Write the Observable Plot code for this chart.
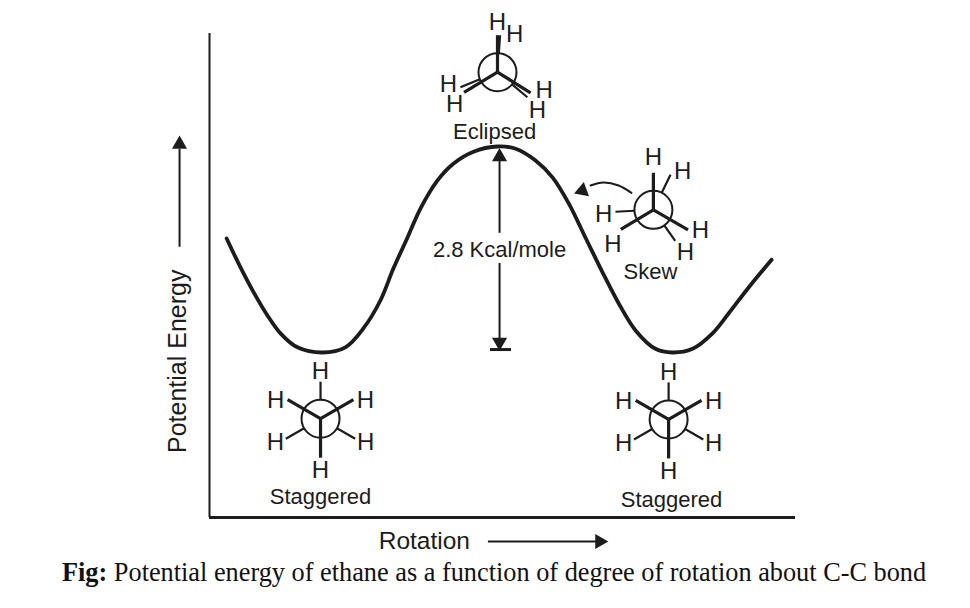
<!DOCTYPE html>
<html>
<head>
<meta charset="utf-8">
<script src="https://cdn.jsdelivr.net/npm/d3@7"></script>
<script src="https://cdn.jsdelivr.net/npm/@observablehq/plot@0.6"></script>
<style>
  html, body { margin: 0; padding: 0; background: #fff; }
  #caption { font-family: "Liberation Serif", serif; font-size: 26.3px; color: #111; white-space: nowrap;
             padding-left: 62px; line-height: 28px; margin-top: 3px; }
</style>
</head>
<body>
<div id="chart"></div>
<div id="caption"><b>Fig:</b> Potential energy of ethane as a function of degree of rotation about C-C bond</div>
<script>
// Potential-energy curve: rotation (deg from eclipsed) and energy (kcal/mole above staggered)
const rotation = [-92.6,-87.9,-83.4,-78.6,-74.2,-68.4,-59.8,-52,-45.8,-40,-35.6,-30.8,-26.3,-20.5,-15,-8.2,0,6.2,13,18.8,24.3,30.1,35.9,41.4,47.2,54,59.8,66.7,73.5,79,85.8,93.7];
const energy   = [1.55,1.16,0.82,0.50,0.26,0.07,0,0.07,0.33,0.71,1.14,1.56,1.96,2.34,2.57,2.73,2.8,2.77,2.61,2.38,2.03,1.56,1.09,0.67,0.30,0.05,0,0.05,0.26,0.53,0.88,1.26];

const xDomain = [-98.46, 101.88];
const yDomain = [-2.243, 4.336];
const margins = {marginLeft: 209, marginRight: 175, marginTop: 33, marginBottom: 39};
const W = 970, H = 556;
const pxPerDeg = (W - margins.marginLeft - margins.marginRight) / (xDomain[1] - xDomain[0]);
const pxPerKcal = (H - margins.marginTop - margins.marginBottom) / (yDomain[1] - yDomain[0]);

// Newman projections: centre, front bonds, back bonds, hydrogen labels (clockwise angle from up, length)
const names   = ["Staggered", "Staggered", "Eclipsed", "Skew"];
const centreX = [-60.5, 58.5, 0, 53.3];
const centreY = [-0.90, -0.91, 3.81, 1.94];
const nameX   = [-60.5, 59.5, -1, 52.3];
const nameY   = [-1.97, -2.0, 3.0, 1.09];
const frontAngles = [[60,300,180],[60,300,180],[0,122,239],[0,120,239]];
const frontLengths = [[38,38,39],[38,38,39],[37,39,39],[37,40,38]];
const backAngles  = [[0,120,240],[0,120,240],[4,130,248],[26,145,267]];
const backLengths = [[37,40,40],[37,40,40],[37,39,40],[39,38,38]];
const hAngles = [[0,68,118,180,242,292],[0,68,118,180,242,292],[0,24,111,133.5,233,256],[0,37,114,143,230,265]];
const hDist   = [[47,48.5,51,52,51,48.5],[47,48.5,51,52,51,48.5],[50,42,50,55,53.6,50.5],[52,48.6,51.5,53,53,50]];
const bondWidths = [3.2, 2.2];
const circleRadius = 19;

const polar = (m, a, d) => ({
  x: centreX[m] + d * Math.sin(a * Math.PI / 180) / pxPerDeg,
  y: centreY[m] + d * Math.cos(a * Math.PI / 180) / pxPerKcal
});
const centres = names.map((n, i) => ({x: centreX[i], y: centreY[i]}));
const labels = names.map((n, i) => ({n, x: nameX[i], y: nameY[i]}));
const frontBonds = names.flatMap((n, m) => frontAngles[m].map((a, j) => {
  const e = polar(m, a, frontLengths[m][j]);
  return {x1: centreX[m], y1: centreY[m], x2: e.x, y2: e.y};
}));
const backBonds = names.flatMap((n, m) => backAngles[m].map((a, j) => {
  const s = polar(m, a, circleRadius), e = polar(m, a, backLengths[m][j]);
  return {x1: s.x, y1: s.y, x2: e.x, y2: e.y};
}));
const hydrogens = names.flatMap((n, m) => hAngles[m].map((a, j) => polar(m, a, hDist[m][j])));

const curve = rotation.map((x, i) => ({x, y: energy[i]}));

// Arrows
const gapArrowX = 0.7;
const gapSegments = [[1.62, 2.61], [0.16, 1.21]];
const capY = 0.04, capX = [-2.4, 4.8];
const peArrowX = -108.7, peArrowY = [1.43, 2.76], peHeadY = 2.83;
const rotArrowY = -2.57, rotArrowX = [-3.1, 34], rotHeadX = 34.9;
const hookX = [45.8, 41.4, 36.2, 31.8], hookY = [2.17, 2.27, 2.31, 2.27];
const hook = hookX.map((x, i) => ({x, y: hookY[i]}));
const heads = [
  {x: gapArrowX, y: 2.66, a: 0},
  {x: gapArrowX, y: 0.14, a: 180},
  {x: peArrowX, y: peHeadY, a: 0},
  {x: rotHeadX, y: rotArrowY, a: 90},
  {x: 29.0, y: 2.2, a: -110}
];

const ink = "#1c1c1c";
const font = "Liberation Sans";

const plot = Plot.plot({
  width: W, height: H, ...margins,
  x: {domain: xDomain, axis: null},
  y: {domain: yDomain, axis: null},
  style: {background: "#fff", fontFamily: font},
  marks: [
    Plot.ruleX([xDomain[0]], {stroke: ink, strokeWidth: 2}),
    Plot.ruleY([yDomain[0]], {stroke: ink, strokeWidth: 3}),
    Plot.line(curve, {x: "x", y: "y", curve: "catmull-rom", stroke: ink, strokeWidth: 3.8}),
    // energy gap arrow
    ...gapSegments.map(([a, b]) => Plot.ruleX([gapArrowX], {y1: a, y2: b, stroke: ink, strokeWidth: 2})),
    Plot.ruleY([capY], {x1: capX[0], x2: capX[1], stroke: ink, strokeWidth: 3}),
    // direction arrows
    Plot.ruleX([peArrowX], {y1: peArrowY[0], y2: peArrowY[1], stroke: ink, strokeWidth: 2}),
    Plot.ruleY([rotArrowY], {x1: rotArrowX[0], x2: rotArrowX[1], stroke: ink, strokeWidth: 2}),
    Plot.line(hook, {x: "x", y: "y", curve: "catmull-rom", stroke: ink, strokeWidth: 2}),
    Plot.dot(heads, {x: "x", y: "y", rotate: "a", symbol: "triangle", r: 5.6, fill: ink, stroke: "none"}),
    // Newman projections
    Plot.dot(centres, {x: "x", y: "y", r: circleRadius, stroke: ink, strokeWidth: 2, fill: "#fff"}),
    Plot.link(frontBonds, {x1: "x1", y1: "y1", x2: "x2", y2: "y2", stroke: ink, strokeWidth: bondWidths[0]}),
    Plot.link(backBonds, {x1: "x1", y1: "y1", x2: "x2", y2: "y2", stroke: ink, strokeWidth: bondWidths[1]}),
    Plot.text(hydrogens, {x: "x", y: "y", text: () => "H", fontSize: 24, fill: ink}),
    Plot.text(labels, {x: "x", y: "y", text: "n", fontSize: 22, fill: ink}),
    Plot.text(["2.8 Kcal/mole"], {x: gapArrowX, y: 1.39, fontSize: 22, fill: ink}),
    Plot.text(["Potential Energy"], {x: -109.4, y: -0.12, rotate: -90, fontSize: 25, fill: ink}),
    Plot.text(["Rotation"], {x: -25, y: rotArrowY, fontSize: 24.5, fill: ink})
  ]
});
document.getElementById("chart").appendChild(plot);
</script>
</body>
</html>
